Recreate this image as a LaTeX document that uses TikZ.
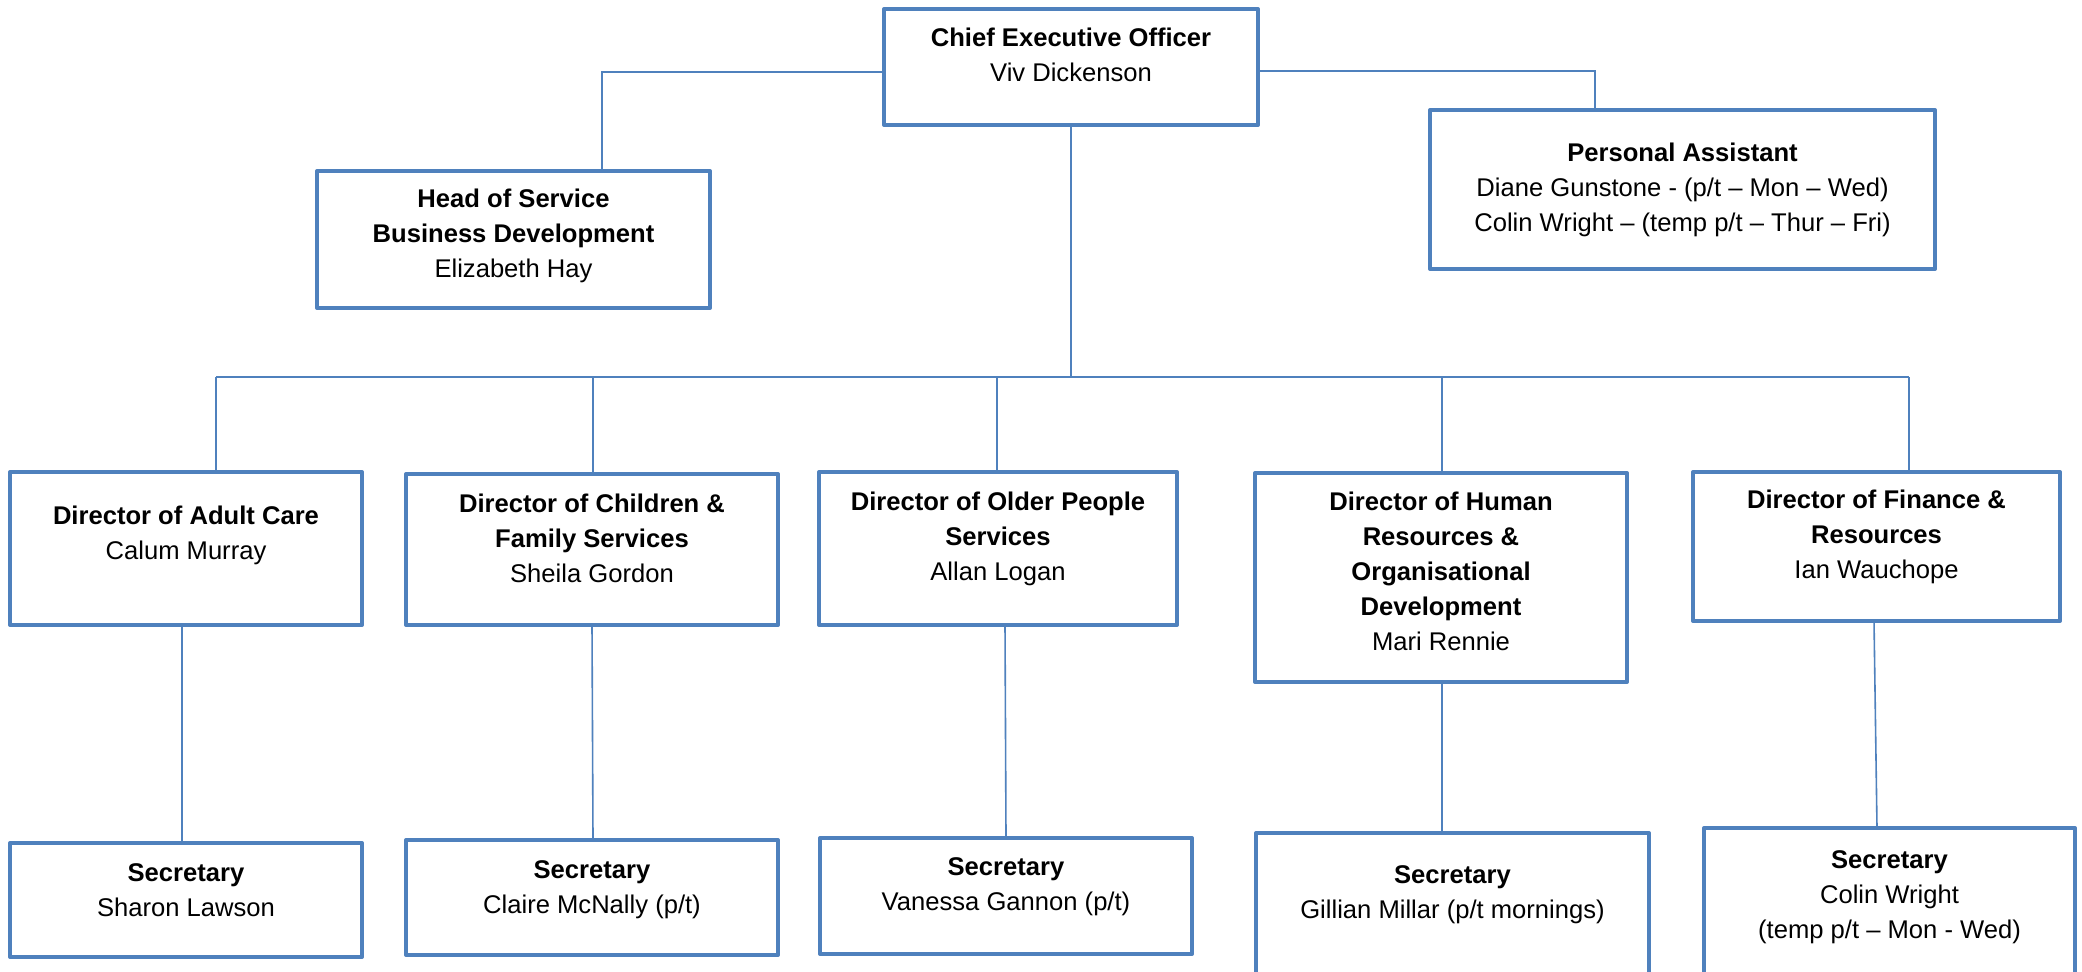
\documentclass[tikz,border=0pt]{standalone}
\usepackage{fontspec}
\setmainfont{Liberation Sans}
\definecolor{boxblue}{HTML}{4F81BD}
\newdimen\pxu \pxu=0.5pt
%% box text: width, height, first baseline, lines
\newcommand{\cell}[4]{\parbox[c][#2\pxu][t]{#1\pxu}{\centering\rule{0pt}{#3\pxu}#4}}
\tikzstyle{post}=[draw=boxblue, fill=white, line width=2pt, line join=round, inner sep=0pt, outer sep=0pt, anchor=north west]
\tikzstyle{link}=[draw=boxblue, line width=0.8pt]

\begin{document}
\begin{tikzpicture}[x=0.5pt, y=-0.5pt, font=\fontsize{12.8pt}{17.6pt}\selectfont]
%%frame
\useasboundingbox (0,0) rectangle (2082,971);
\clip (0,0) rectangle (2082,971);
\fill[white] (0,0) rectangle (2082,971);
%%top
\node[post] (ceo) at (884,9) {\cell{374}{116}{37}{\textbf{Chief Executive Officer}\\Viv Dickenson}};
\node[post] (head) at (317,171) {\cell{393}{137}{36}{\textbf{Head of Service\\Business Development}\\Elizabeth Hay}};
\node[post] (assist) at (1430,110) {\cell{505}{159}{51}{\textbf{Personal Assistant}\\Diane Gunstone - (p/t – Mon – Wed)\\Colin Wright – (temp p/t – Thur – Fri)}};
%%directors
\node[post] (dir1) at (10,472) {\cell{352}{153}{52}{\textbf{Director of Adult Care}\\Calum Murray}};
\node[post] (dir2) at (406,474) {\cell{372}{151}{38}{\textbf{Director of Children \&\\Family Services}\\Sheila Gordon}};
\node[post] (dir3) at (819,472) {\cell{358}{153}{38}{\textbf{Director of Older People\\Services}\\Allan Logan}};
\node[post] (dir4) at (1255,473) {\cell{372}{209}{37}{\textbf{Director of Human\\Resources \&\\Organisational\\Development}\\Mari Rennie}};
\node[post] (dir5) at (1693,472) {\cell{367}{149}{36}{\textbf{Director of Finance \&\\Resources}\\Ian Wauchope}};
%%secretaries
\node[post] (sec1) at (10,843) {\cell{352}{114}{38}{\textbf{Secretary}\\Sharon Lawson}};
\node[post] (sec2) at (406,840) {\cell{372}{115}{38}{\textbf{Secretary}\\Claire McNally (p/t)}};
\node[post] (sec3) at (820,838) {\cell{372}{116}{37}{\textbf{Secretary}\\Vanessa Gannon (p/t)}};
\node[post] (sec4) at (1256,833) {\cell{393}{180}{50}{\textbf{Secretary}\\Gillian Millar (p/t mornings)}};
\node[post] (sec5) at (1704,828) {\cell{371}{180}{40}{\textbf{Secretary}\\Colin Wright\\(temp p/t – Mon - Wed)}};
%%links from the top
\coordinate (hsbend) at (602,72);
\coordinate (pabend) at (1595,71);
\draw[link] (ceo.west |- hsbend) -| (head.north -| hsbend);
\draw[link] (ceo.east |- pabend) -| (assist.north -| pabend);
%%bus
\foreach \d/\x in {dir1/216, dir2/593, dir3/997, dir4/1442, dir5/1909}
{
\coordinate (t\d) at (\x,377);
\draw[link] (t\d) -- (t\d |- \d.north);
}
\draw[link] (tdir1) -- (tdir5);
\draw[link] (ceo.south) -- (ceo.south |- tdir1);
%%links down
\foreach \d/\s/\xa/\xb in {dir1/sec1/182/182, dir2/sec2/592/593, dir3/sec3/1005/1006, dir4/sec4/1442/1442, dir5/sec5/1874/1877}
{
\coordinate (u\d) at (\xa,0);
\coordinate (l\s) at (\xb,0);
\draw[link] (\d.south -| u\d) -- (\s.north -| l\s);
}
\end{tikzpicture}
\end{document}
